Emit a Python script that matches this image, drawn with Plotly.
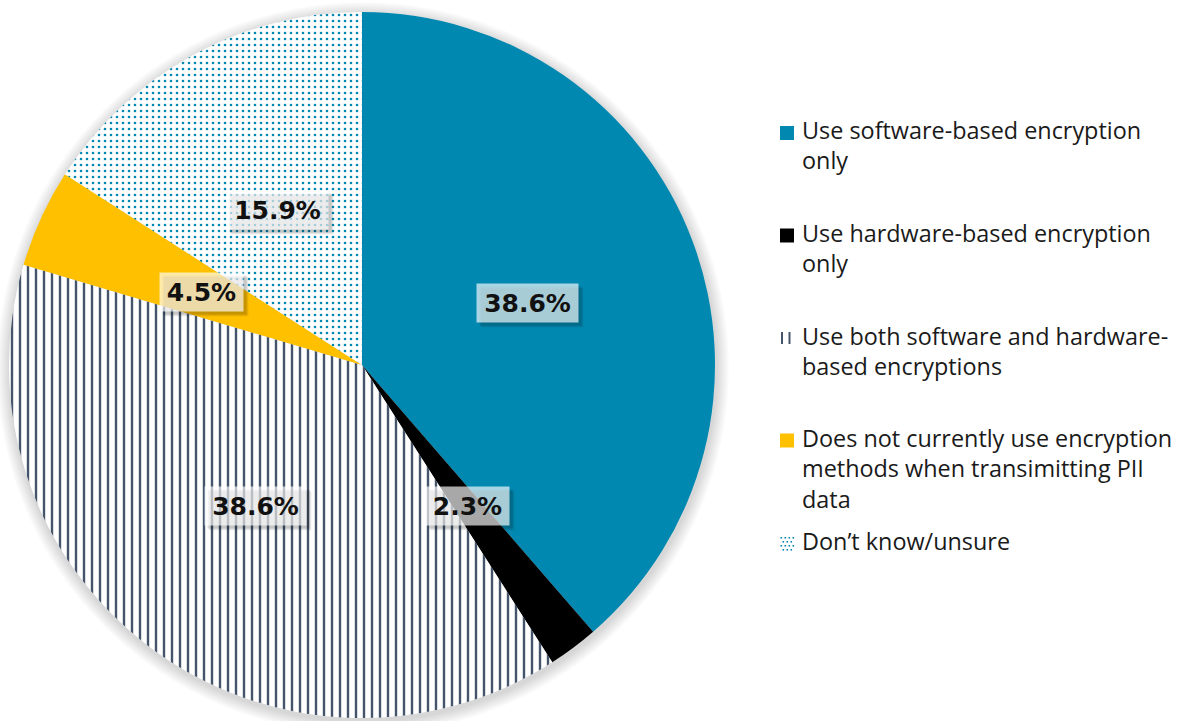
import math
import plotly.graph_objects as go

# Survey answers: how PII data is encrypted in transit
categories = [
    "Use software-based encryption only",
    "Use hardware-based encryption only",
    "Use both software and hardware-based encryptions",
    "Does not currently use encryption methods when transimitting PII data",
    "Don’t know/unsure",
]
legend_text = [
    "Use software-based encryption<br>only",
    "Use hardware-based encryption<br>only",
    "Use both software and hardware-<br>based encryptions",
    "Does not currently use encryption<br>methods when transimitting PII<br>data",
    "Don’t know/unsure",
]
shares = [38.6, 2.3, 38.6, 4.5, 15.9]

TEAL = "#0088B0"
BLACK = "#000000"
SLATE = "#44546A"
GOLD = "#FFC000"

slice_colors = [TEAL, BLACK, SLATE, GOLD, TEAL]
pattern_shapes = ["", "", "|", "", "."]
pattern_bg = [None, None, "white", None, "white"]

W, H = 1179, 721
CX, CY, R = 362, 365, 353  # pie centre and radius in pixels


def px_x(x):
    return x / W


def px_y(y):
    return 1 - y / H


fig = go.Figure()

# soft glow behind the pie
for k in range(1, 9):
    rr = R + 1.6 * k
    ccx, ccy = CX + 1, CY + 3
    fig.add_shape(type="circle", xref="paper", yref="paper", layer="below",
                  x0=px_x(ccx - rr), x1=px_x(ccx + rr),
                  y0=px_y(ccy + rr), y1=px_y(ccy - rr),
                  fillcolor="rgba(0,0,0,0.018)", line=dict(width=0))

fig.add_trace(go.Pie(
    labels=categories,
    values=shares,
    sort=False,
    direction="clockwise",
    rotation=0,
    domain=dict(x=[px_x(CX - R), px_x(CX + R)], y=[px_y(CY + R), px_y(CY - R)]),
    marker=dict(
        colors=slice_colors,
        line=dict(width=0),
        pattern=dict(
            shape=pattern_shapes,
            bgcolor=[c if c else col for c, col in zip(pattern_bg, slice_colors)],
            fgcolor=slice_colors,
            size=[8, 8, 8, 8, 6],
            solidity=[0.3, 0.3, 0.3, 0.3, 0.15],
            fillmode="replace",
        ),
    ),
    textinfo="none",
    hoverinfo="label+percent",
    showlegend=False,
))

# value labels in boxes, placed halfway along each slice's mid-angle
total = sum(shares)
cum = 0.0
LABEL_SIZE = 25
# approximate advance widths of DejaVu Sans Bold, in em
GLYPH_EM = {".": 0.38, "%": 1.002}
label_font = dict(family="DejaVu Sans", size=LABEL_SIZE, color="#111111")


def text_width(s):
    return sum(GLYPH_EM.get(ch, 0.696) for ch in s) * LABEL_SIZE


for v in shares:
    theta = math.radians((cum + v / 2) / total * 360)
    cum += v
    lx = CX + 0.5 * R * math.sin(theta)
    ly = CY - 0.5 * R * math.cos(theta)
    s = f"{v:.1f}%"
    box_w = round(text_width(s))
    # drop shadow of the label box
    for sh, a in [(5, 0.06), (4, 0.08), (3, 0.10)]:
        fig.add_annotation(
            x=px_x(lx), y=px_y(ly), xref="paper", yref="paper",
            xanchor="center", yanchor="middle",
            text=" ", showarrow=False, xshift=sh, yshift=-sh,
            width=box_w, height=24, borderpad=7,
            font=dict(size=LABEL_SIZE),
            bgcolor=f"rgba(0,0,0,{a})",
        )
    fig.add_annotation(
        x=px_x(lx), y=px_y(ly), xref="paper", yref="paper",
        xanchor="center", yanchor="middle",
        text=f"<b>{s}</b>", showarrow=False, font=label_font,
        width=box_w, height=24, borderpad=7,
        bgcolor="rgba(255,255,255,0.66)",
    )

# legend: marker glyphs and wrapped entry text
LEG_X_SYM = 780
LEG_X_TXT = 800
first_line = [132, 234.5, 337, 439.5, 542]
SQ = 14
LEG_SIZE = 23.4
legend_font = dict(family="Open Sans", size=LEG_SIZE, color="#1a1a1a")
for i, (txt, col, pat) in enumerate(zip(legend_text, slice_colors, pattern_shapes)):
    yc = first_line[i] + 1
    if pat == "":
        fig.add_shape(type="rect", xref="paper", yref="paper",
                      x0=px_x(LEG_X_SYM), x1=px_x(LEG_X_SYM + SQ),
                      y0=px_y(yc + SQ / 2), y1=px_y(yc - SQ / 2),
                      fillcolor=col, line=dict(width=0))
    elif pat == "|":
        for bx in (LEG_X_SYM + 1, LEG_X_SYM + 8.5):
            fig.add_shape(type="rect", xref="paper", yref="paper",
                          x0=px_x(bx), x1=px_x(bx + 2),
                          y0=px_y(yc + 6), y1=px_y(yc - 6),
                          fillcolor=col, line=dict(width=0))
    else:
        for row in range(4):
            dy = -6 + row * 4
            offs = [0.5, 4.5, 8.5, 12.5] if row % 2 == 0 else [2.5, 6.5, 10.5]
            for dx in offs:
                fig.add_shape(type="rect", xref="paper", yref="paper",
                              x0=px_x(LEG_X_SYM + dx), x1=px_x(LEG_X_SYM + dx + 1.6),
                              y0=px_y(yc + dy + 1.6), y1=px_y(yc + dy),
                              fillcolor=col, line=dict(width=0))
    fig.add_annotation(
        x=px_x(LEG_X_TXT), y=px_y(first_line[i] - 19.5), xref="paper", yref="paper",
        xanchor="left", yanchor="top", align="left",
        text=txt, showarrow=False, font=legend_font,
    )

fig.update_layout(
    width=W, height=H,
    margin=dict(l=0, r=0, t=0, b=0),
    paper_bgcolor="white",
    plot_bgcolor="white",
    showlegend=False,
)

fig.write_html("out.html")
